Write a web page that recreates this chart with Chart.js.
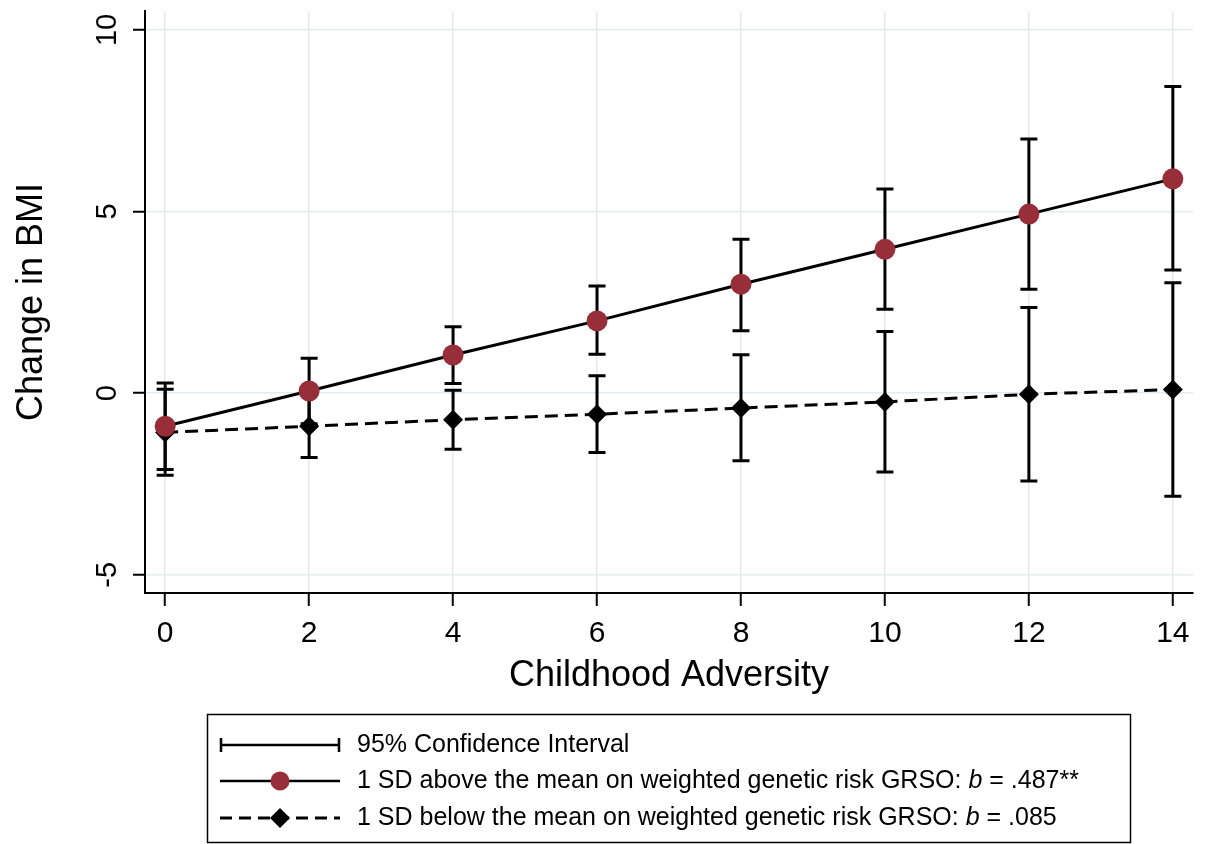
<!DOCTYPE html>
<html>
<head>
<meta charset="utf-8">
<script src="https://cdn.jsdelivr.net/npm/chart.js@4/dist/chart.umd.min.js"></script>
<style>
  html, body { margin: 0; padding: 0; background: #fff; }
  #wrap { width: 1205px; height: 844px; }
</style>
</head>
<body>
<div id="wrap"><canvas id="myChart" width="1205" height="844"></canvas></div>
<script>
// childhood adversity score (x)
const adversity = [0, 2, 4, 6, 8, 10, 12, 14];

// 1 SD above the mean on weighted genetic risk
const aboveMean = [-0.91, 0.06, 1.05, 1.99, 3.0, 3.96, 4.93, 5.9];
const aboveLow = [-2.1, -0.84, 0.27, 1.07, 1.72, 2.31, 2.86, 3.39];
const aboveHigh = [0.28, 0.96, 1.83, 2.95, 4.24, 5.62, 7.0, 8.44];

// 1 SD below the mean on weighted genetic risk
const belowMean = [-1.08, -0.91, -0.73, -0.58, -0.41, -0.24, -0.03, 0.1];
const belowLow = [-2.26, -1.77, -1.54, -1.63, -1.86, -2.17, -2.42, -2.84];
const belowHigh = [0.11, -0.05, 0.08, 0.48, 1.06, 1.7, 2.36, 3.04];

const xTicks = [0, 2, 4, 6, 8, 10, 12, 14];
const yTicks = [-5, 0, 5, 10];

const legendLabels = [
  "95% Confidence Interval",
  ["1 SD above the mean on weighted genetic risk GRSO: ", "b", " = .487**"],
  ["1 SD below the mean on weighted genetic risk GRSO: ", "b", " = .085"],
];

const RED = "#972e3a";
const GRID = "#e2ecee";
const FONT = "'Liberation Sans', Arial, sans-serif";

Chart.defaults.font.family = FONT;
Chart.defaults.color = "#000";

const toPoints = (ys) => ys.map((y, i) => ({ x: adversity[i], y: y }));

// vertical CI bars with caps, drawn under the points
const errorBars = {
  id: "errorBars",
  beforeDatasetsDraw(chart) {
    const { ctx, scales } = chart;
    const sets = [
      [aboveLow, aboveHigh],
      [belowLow, belowHigh],
    ];
    ctx.save();
    ctx.strokeStyle = "#000";
    ctx.lineWidth = 3;
    sets.forEach(([lo, hi]) => {
      adversity.forEach((xv, i) => {
        const x = scales.x.getPixelForValue(xv);
        const y1 = scales.y.getPixelForValue(lo[i]);
        const y2 = scales.y.getPixelForValue(hi[i]);
        ctx.beginPath();
        ctx.moveTo(x, y1);
        ctx.lineTo(x, y2);
        ctx.moveTo(x - 8.5, y1);
        ctx.lineTo(x + 8.5, y1);
        ctx.moveTo(x - 8.5, y2);
        ctx.lineTo(x + 8.5, y2);
        ctx.stroke();
      });
    });
    ctx.restore();
  },
};

// rotated y tick labels (Stata style) and the boxed legend below
const extras = {
  id: "extras",
  afterDraw(chart) {
    const { ctx, scales } = chart;
    ctx.save();
    ctx.fillStyle = "#000";
    ctx.font = "29px " + FONT;
    ctx.textAlign = "center";
    ctx.textBaseline = "middle";
    yTicks.forEach((v) => {
      const y = scales.y.getPixelForValue(v);
      ctx.save();
      ctx.translate(108, y);
      ctx.rotate(-Math.PI / 2);
      ctx.fillText(String(v), 0, 0);
      ctx.restore();
    });

    // legend box
    ctx.strokeStyle = "#000";
    ctx.lineWidth = 1.5;
    ctx.strokeRect(207.5, 714.5, 923, 128);

    const rows = [745, 781, 818];
    const x0 = 220, x1 = 340, xm = 280, tx = 357;
    ctx.lineWidth = 2.5;

    // CI symbol
    ctx.beginPath();
    ctx.moveTo(x0, rows[0]);
    ctx.lineTo(x1, rows[0]);
    ctx.moveTo(x0 + 1, rows[0] - 7);
    ctx.lineTo(x0 + 1, rows[0] + 7);
    ctx.moveTo(x1 - 1, rows[0] - 7);
    ctx.lineTo(x1 - 1, rows[0] + 7);
    ctx.stroke();

    // solid line + red dot
    ctx.beginPath();
    ctx.moveTo(x0, rows[1]);
    ctx.lineTo(x1, rows[1]);
    ctx.stroke();
    ctx.fillStyle = RED;
    ctx.beginPath();
    ctx.arc(xm, rows[1], 9.5, 0, Math.PI * 2);
    ctx.fill();

    // dashed line + diamond
    ctx.lineWidth = 3;
    ctx.setLineDash([12, 7]);
    ctx.beginPath();
    ctx.moveTo(x0, rows[2]);
    ctx.lineTo(x1, rows[2]);
    ctx.stroke();
    ctx.setLineDash([]);
    ctx.fillStyle = "#000";
    ctx.beginPath();
    ctx.moveTo(xm - 10, rows[2]);
    ctx.lineTo(xm, rows[2] - 10);
    ctx.lineTo(xm + 10, rows[2]);
    ctx.lineTo(xm, rows[2] + 10);
    ctx.closePath();
    ctx.fill();

    // legend texts
    ctx.textAlign = "left";
    ctx.textBaseline = "middle";
    legendLabels.forEach((lab, i) => {
      const parts = Array.isArray(lab) ? lab : [lab];
      let x = tx;
      parts.forEach((p, j) => {
        ctx.font = (j === 1 ? "italic " : "") + "25px " + FONT;
        ctx.fillText(p, x, rows[i]);
        x += ctx.measureText(p).width;
      });
    });
    ctx.restore();
  },
};

const data = {
  datasets: [
    {
      label: "1 SD above the mean",
      data: toPoints(aboveMean),
      borderColor: "#000",
      borderWidth: 3,
      pointStyle: "circle",
      pointRadius: 10.5,
      pointBackgroundColor: RED,
      pointBorderColor: RED,
      pointBorderWidth: 0,
      order: 1,
    },
    {
      label: "1 SD below the mean",
      data: toPoints(belowMean),
      borderColor: "#000",
      borderWidth: 3,
      borderDash: [13, 7],
      pointStyle: "rectRot",
      pointRadius: 10,
      pointBackgroundColor: "#000",
      pointBorderColor: "#000",
      pointBorderWidth: 0,
      order: 2,
    },
  ],
};

const config = {
  type: "line",
  data: data,
  options: {
    responsive: false,
    animation: false,
    layout: { padding: { top: 11, right: 12, bottom: 141, left: 0 } },
    plugins: {
      legend: { display: false },
      tooltip: { enabled: false },
    },
    scales: {
      x: {
        type: "linear",
        min: -0.28,
        max: 14.28,
        afterBuildTicks: (s) => { s.ticks = xTicks.map((v) => ({ value: v })); },
        afterFit: (s) => { s.height = 110; },
        grid: { color: GRID, lineWidth: 1.5, tickColor: "#000", tickLength: 13, tickWidth: 2 },
        border: { display: true, color: "#000", width: 2 },
        ticks: { font: { size: 30 }, padding: 10, color: "#000", maxRotation: 0 },
        title: { display: true, text: "Childhood Adversity", font: { size: 36 }, padding: { top: 0, bottom: 5 }, color: "#000" },
      },
      y: {
        type: "linear",
        min: -5.5,
        max: 10.52,
        afterBuildTicks: (s) => { s.ticks = yTicks.map((v) => ({ value: v })); },
        afterFit: (s) => { s.width = 145; },
        grid: { color: GRID, lineWidth: 1.5, tickColor: "#000", tickLength: 12, tickWidth: 2 },
        border: { display: true, color: "#000", width: 2 },
        ticks: { display: false },
        title: { display: true, text: "Change in BMI", font: { size: 36 }, padding: { top: 10, bottom: 0 }, color: "#000" },
      },
    },
  },
  plugins: [errorBars, extras],
};

var myChart = new Chart(document.getElementById("myChart"), config);
</script>
</body>
</html>
